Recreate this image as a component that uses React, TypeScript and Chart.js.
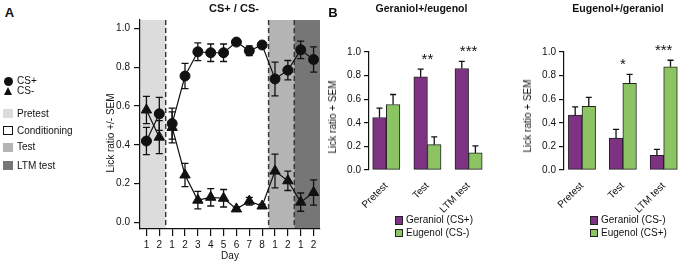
import React, { useEffect, useRef } from "react";
import { Chart, registerables } from "chart.js";

Chart.register(...registerables);

const FONT = "'Liberation Sans', Arial, Helvetica, sans-serif";
Chart.defaults.font.family = FONT;

// ---------- Panel A data ----------
const dayLabels = ["1", "2", "1", "2", "3", "4", "5", "6", "7", "8", "1", "2", "1", "2"];
const phaseNames = ["Pretest", "Conditioning", "Test", "LTM test"];
const phaseDays = [2, 8, 2, 2];
const seriesNamesA = ["CS+", "CS-"];
const csPlus = [0.42, 0.56, 0.51, 0.755, 0.88, 0.875, 0.875, 0.93, 0.885, 0.915, 0.74, 0.785, 0.89, 0.84];
const csPlusSem = [0.07, 0.085, 0.08, 0.065, 0.046, 0.045, 0.045, 0.01, 0.025, 0.01, 0.087, 0.05, 0.045, 0.065];
const csMinus = [0.58, 0.44, 0.49, 0.245, 0.115, 0.13, 0.125, 0.07, 0.11, 0.085, 0.265, 0.215, 0.105, 0.155];
const csMinusSem = [0.07, 0.085, 0.08, 0.06, 0.045, 0.045, 0.045, 0.01, 0.02, 0.01, 0.087, 0.05, 0.047, 0.065];
const yTicksA = [0, 0.2, 0.4, 0.6, 0.8, 1.0];

// ---------- Panel B data ----------
const groups = ["Pretest", "Test", "LTM test"];
const yTicksB = [0, 0.2, 0.4, 0.6, 0.8, 1.0];
const b1Labels = ["Geraniol (CS+)", "Eugenol (CS-)"];
const b1Geraniol = [0.445, 0.79, 0.86];
const b1GeraniolSem = [0.08, 0.065, 0.06];
const b1Eugenol = [0.555, 0.215, 0.145];
const b1EugenolSem = [0.085, 0.065, 0.06];
const b1Stars = ["", "**", "***"];
const b2Labels = ["Geraniol (CS-)", "Eugenol (CS+)"];
const b2Geraniol = [0.465, 0.27, 0.125];
const b2GeraniolSem = [0.07, 0.075, 0.05];
const b2Eugenol = [0.54, 0.735, 0.875];
const b2EugenolSem = [0.075, 0.075, 0.055];
const b2Stars = ["", "*", "***"];

// ---------- styles ----------
const phaseFill = ["#dcdcdc", null, "#b4b4b4", "#767676"];
const PURPLE = "#7d3282";
const GREEN = "#8cc463";
const INK = "#111";

const phasePlugin = {
  id: "phases",
  beforeDraw(chart: any) {
    const { ctx, chartArea, scales } = chart;
    const xs = scales.x;
    const step = xs.getPixelForValue(1) - xs.getPixelForValue(0);
    let start = 0;
    const bounds: number[] = [];
    ctx.save();
    phaseDays.forEach((n, p) => {
      const x0 = xs.getPixelForValue(start) - step / 2;
      const x1 = xs.getPixelForValue(start + n - 1) + step / 2;
      const fill = phaseFill[p];
      if (fill) {
        ctx.fillStyle = fill;
        ctx.fillRect(x0, chartArea.top, x1 - x0, chartArea.bottom - chartArea.top);
      }
      if (p > 0) bounds.push(x0);
      start += n;
    });
    ctx.strokeStyle = "#333";
    ctx.lineWidth = 1.4;
    ctx.setLineDash([5, 3]);
    bounds.forEach((x) => {
      ctx.beginPath();
      ctx.moveTo(x, chartArea.top);
      ctx.lineTo(x, chartArea.bottom);
      ctx.stroke();
    });
    ctx.restore();
  },
};

const makeErrorPlugin = (id: string, hook: string, upOnly: boolean, capHalf: number) => ({
  id,
  [hook](chart: any) {
    const { ctx } = chart;
    const yS = chart.scales.y;
    ctx.save();
    ctx.strokeStyle = INK;
    ctx.lineWidth = 1.3;
    ctx.setLineDash([]);
    chart.data.datasets.forEach((ds: any, di: number) => {
      const meta = chart.getDatasetMeta(di);
      meta.data.forEach((el: any, i: number) => {
        const raw = ds.data[i];
        const v = typeof raw === "number" ? raw : raw.y;
        const e = ds.errors[i];
        const x = el.x;
        const yT = yS.getPixelForValue(v + e);
        const yB = upOnly ? yS.getPixelForValue(v) : yS.getPixelForValue(v - e);
        ctx.beginPath();
        ctx.moveTo(x, yB);
        ctx.lineTo(x, yT);
        ctx.moveTo(x - capHalf, yT);
        ctx.lineTo(x + capHalf, yT);
        if (!upOnly) {
          ctx.moveTo(x - capHalf, yB);
          ctx.lineTo(x + capHalf, yB);
        }
        ctx.stroke();
      });
    });
    ctx.restore();
  },
});

const makeStarsPlugin = (stars: string[]) => ({
  id: "stars",
  afterDatasetsDraw(chart: any) {
    const { ctx } = chart;
    const xS = chart.scales.x;
    const yS = chart.scales.y;
    ctx.save();
    ctx.fillStyle = INK;
    ctx.font = `15px ${FONT}`;
    ctx.textAlign = "center";
    ctx.textBaseline = "alphabetic";
    stars.forEach((s, i) => {
      if (!s) return;
      let top = 0;
      chart.data.datasets.forEach((ds: any) => {
        top = Math.max(top, ds.data[i].y + ds.errors[i]);
      });
      ctx.fillText(s, xS.getPixelForValue(i), yS.getPixelForValue(top) - 5);
    });
    ctx.restore();
  },
});

const axisFont = { size: 10, family: FONT };

const configA = () => {
  const breakAfter = phaseDays[0] - 1;
  const seg = {
    borderColor: (c: any) => (c.p0DataIndex === breakAfter ? "rgba(0,0,0,0)" : undefined),
  };
  return {
    type: "line",
    data: {
      labels: dayLabels,
      datasets: [
        {
          label: seriesNamesA[0],
          data: csPlus,
          errors: csPlusSem,
          borderColor: INK,
          backgroundColor: INK,
          borderWidth: 1.2,
          pointStyle: "circle",
          pointRadius: 5,
          pointBorderWidth: 1,
          pointBackgroundColor: INK,
          pointBorderColor: INK,
          tension: 0,
          segment: seg,
        },
        {
          label: seriesNamesA[1],
          data: csMinus,
          errors: csMinusSem,
          borderColor: INK,
          backgroundColor: INK,
          borderWidth: 1.2,
          pointStyle: "triangle",
          pointRadius: 6,
          pointBorderWidth: 1,
          pointBackgroundColor: INK,
          pointBorderColor: INK,
          tension: 0,
          segment: seg,
        },
      ],
    },
    options: {
      responsive: false,
      animation: false,
      devicePixelRatio: 1,
      events: [],
      layout: { padding: { top: 20, right: 10, left: 0, bottom: 0 } },
      plugins: { legend: { display: false }, tooltip: { enabled: false }, title: { display: false } },
      scales: {
        x: {
          type: "category",
          offset: true,
          grid: { display: true, drawOnChartArea: false, drawTicks: true, tickLength: 7, color: INK, lineWidth: 1.2 },
          border: { display: true, color: INK, width: 1.2 },
          ticks: { color: INK, font: axisFont, padding: 3, maxRotation: 0, autoSkip: false },
          title: { display: true, text: "Day", color: INK, font: axisFont, padding: { top: 0, bottom: 0 } },
          afterFit: (s: any) => {
            s.height = 33;
          },
        },
        y: {
          type: "linear",
          min: -0.0335,
          max: 1.0438,
          afterBuildTicks: (s: any) => {
            s.ticks = yTicksA.map((v) => ({ value: v }));
          },
          grid: { display: true, drawOnChartArea: false, drawTicks: true, tickLength: 6, color: INK, lineWidth: 1.2 },
          border: { display: true, color: INK, width: 1.2 },
          ticks: { color: INK, font: axisFont, padding: 4, callback: (v: any) => Number(v).toFixed(1) },
          afterFit: (s: any) => {
            s.width = 45;
          },
        },
      },
    },
    plugins: [phasePlugin, makeErrorPlugin("errA", "beforeDatasetsDraw", false, 3.5)],
  };
};

const makeBarConfig = (
  labels: string[],
  g: number[],
  gSem: number[],
  e: number[],
  eSem: number[],
  stars: string[],
  xMin: number,
  padRight: number
) => () => ({
  type: "bar",
  data: {
    datasets: [
      {
        label: labels[0],
        data: groups.map((_, i) => ({ x: i, y: g[i] })),
        errors: gSem,
        backgroundColor: PURPLE,
        borderColor: "#222",
        borderWidth: 1,
        borderSkipped: false,
        barThickness: 13.6,
      },
      {
        label: labels[1],
        data: groups.map((_, i) => ({ x: i, y: e[i] })),
        errors: eSem,
        backgroundColor: GREEN,
        borderColor: "#222",
        borderWidth: 1,
        borderSkipped: false,
        barThickness: 13.6,
      },
    ],
  },
  options: {
    responsive: false,
    animation: false,
    devicePixelRatio: 1,
    events: [],
    layout: { padding: { top: 52, right: padRight, left: 0, bottom: 0 } },
    plugins: { legend: { display: false }, tooltip: { enabled: false }, title: { display: false } },
    scales: {
      x: {
        type: "linear",
        offset: false,
        min: xMin,
        max: 2.35,
        afterBuildTicks: (s: any) => {
          s.ticks = groups.map((_, i) => ({ value: i }));
        },
        grid: { display: false },
        border: { display: false },
        ticks: {
          color: INK,
          font: axisFont,
          padding: 2,
          minRotation: 45,
          maxRotation: 45,
          autoSkip: false,
          callback: (v: any) => groups[Math.round(Number(v))],
        },
        afterFit: (s: any) => {
          s.height = 45;
        },
      },
      y: {
        type: "linear",
        min: 0,
        max: 1,
        afterBuildTicks: (s: any) => {
          s.ticks = yTicksB.map((v) => ({ value: v }));
        },
        grid: { display: true, drawOnChartArea: false, drawTicks: true, tickLength: 5, color: INK, lineWidth: 1.2 },
        border: { display: true, color: INK, width: 1.2 },
        ticks: { color: INK, font: axisFont, padding: 3, callback: (v: any) => Number(v).toFixed(1) },
        afterFit: (s: any) => {
          s.width = 43;
        },
      },
    },
  },
  plugins: [makeErrorPlugin("errB", "afterDatasetsDraw", true, 3), makeStarsPlugin(stars)],
});

function ChartCanvas({ left, top, width, height, config }: any) {
  const ref = useRef<HTMLCanvasElement>(null);
  useEffect(() => {
    const chart = new Chart(ref.current as HTMLCanvasElement, config() as any);
    return () => chart.destroy();
  }, []);
  return (
    <canvas
      ref={ref}
      width={width}
      height={height}
      style={{ position: "absolute", left, top, width, height }}
    />
  );
}

function T({ x, y, children, size = 10, bold = false, align = "center", rotate = 0 }: any) {
  const tx = align === "center" ? "-50%" : align === "left" ? "0" : "-100%";
  return (
    <div
      style={{
        position: "absolute",
        left: x,
        top: y,
        transform: `translate(${tx},-50%) rotate(${rotate}deg)`,
        fontSize: size,
        fontWeight: bold ? 700 : 400,
        lineHeight: 1,
        whiteSpace: "nowrap",
        color: INK,
      }}
    >
      {children}
    </div>
  );
}

function Swatch({ x, y, w, h, bg, border }: any) {
  return (
    <div
      style={{
        position: "absolute",
        left: x,
        top: y,
        width: w,
        height: h,
        background: bg,
        border: border || "none",
        boxSizing: "border-box",
      }}
    />
  );
}

export default function App() {
  const legendRowsA = [113.5, 130.5, 147, 165.5];
  return (
    <div
      style={{
        position: "fixed",
        left: 0,
        top: 0,
        width: 680,
        height: 262,
        background: "#fff",
        overflow: "hidden",
        fontFamily: FONT,
      }}
    >
      <ChartCanvas left={95} top={0} width={235} height={262} config={configA} />
      <ChartCanvas
        left={326}
        top={0}
        width={164}
        height={215}
        config={makeBarConfig(b1Labels, b1Geraniol, b1GeraniolSem, b1Eugenol, b1EugenolSem, b1Stars, -0.42, 7)}
      />
      <ChartCanvas
        left={521}
        top={0}
        width={159}
        height={215}
        config={makeBarConfig(b2Labels, b2Geraniol, b2GeraniolSem, b2Eugenol, b2EugenolSem, b2Stars, -0.44, 2)}
      />

      {/* Panel letters and titles */}
      <T x={9.5} y={12} size={13} bold>A</T>
      <T x={333} y={12} size={13} bold>B</T>
      <T x={234} y={7.5} size={11} bold>CS+ / CS-</T>
      <T x={421.5} y={8} size={10.5} bold>Geraniol+/eugenol</T>
      <T x={618} y={8} size={10.5} bold>Eugenol+/geraniol</T>

      {/* Y axis titles */}
      <T x={111} y={132.5} rotate={-90}>Lick ratio +/- SEM</T>
      <T x={333} y={116.5} rotate={-90}>Lick ratio + SEM</T>
      <T x={528} y={116} rotate={-90}>Lick ratio + SEM</T>

      {/* Panel A legend */}
      <div
        style={{
          position: "absolute",
          left: 3.5,
          top: 76.5,
          width: 9,
          height: 9,
          borderRadius: "50%",
          background: INK,
        }}
      />
      <T x={17} y={81} align="left">{seriesNamesA[0]}</T>
      <div
        style={{
          position: "absolute",
          left: 3.5,
          top: 87,
          width: 0,
          height: 0,
          borderLeft: "4.5px solid transparent",
          borderRight: "4.5px solid transparent",
          borderBottom: "8px solid " + INK,
        }}
      />
      <T x={17} y={91} align="left">{seriesNamesA[1]}</T>
      {phaseNames.map((name, p) => (
        <React.Fragment key={name}>
          <Swatch
            x={3}
            y={legendRowsA[p] - 4.5}
            w={10}
            h={9}
            bg={phaseFill[p] || "#fff"}
            border={phaseFill[p] ? undefined : "1.5px solid " + INK}
          />
          <T x={17} y={legendRowsA[p]} align="left">{name}</T>
        </React.Fragment>
      ))}

      {/* Panel B legends */}
      {[PURPLE, GREEN].map((c, i) => (
        <React.Fragment key={"b1" + i}>
          <Swatch x={394.5} y={216 + i * 12.5} w={8.5} h={8.5} bg={c} border={"1px solid #222"} />
          <T x={406} y={220.3 + i * 12.5} align="left">{b1Labels[i]}</T>
          <Swatch x={589.5} y={216 + i * 12.5} w={8.5} h={8.5} bg={c} border={"1px solid #222"} />
          <T x={601} y={220.3 + i * 12.5} align="left">{b2Labels[i]}</T>
        </React.Fragment>
      ))}
    </div>
  );
}
